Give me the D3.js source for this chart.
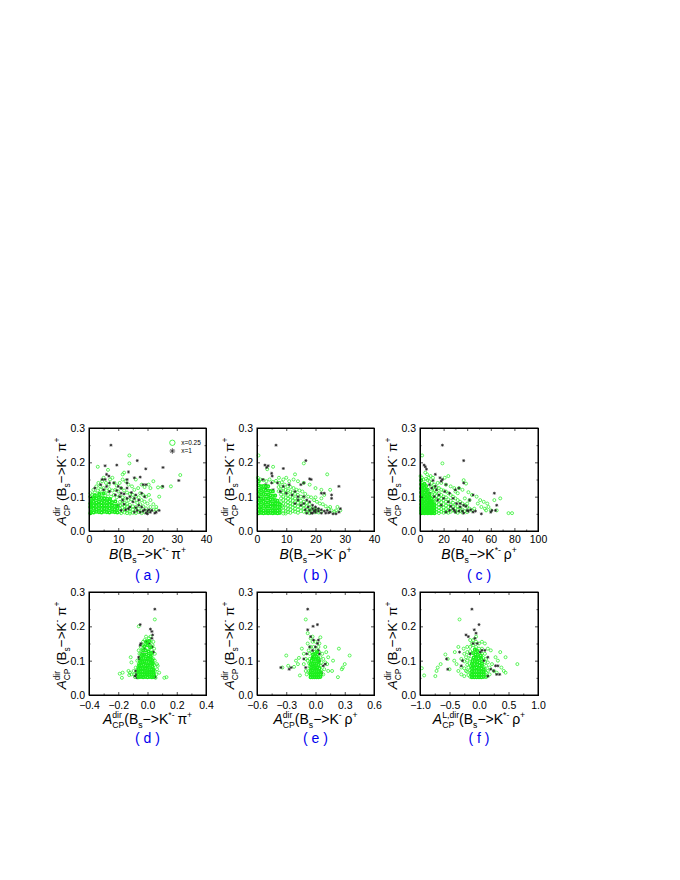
<!DOCTYPE html>
<html><head><meta charset="utf-8">
<script src="https://cdnjs.cloudflare.com/ajax/libs/d3/7.8.5/d3.min.js"></script>
<style>html,body{margin:0;background:#fff}svg{display:block}text{font-family:"Liberation Sans",Arial,sans-serif}</style>
</head><body><svg id="c" width="680" height="880"></svg>
<script>
const panelNames=["( a )","( b )","( c )","( d )","( e )","( f )"];
const xDomains=[[0,40],[0,40],[0,100],[-0.4,0.4],[-0.6,0.6],[-1,1]];
const xTickValues=[[0,10,20,30,40],[0,10,20,30,40],[0,20,40,60,80,100],[-0.4,-0.2,0,0.2,0.4],[-0.6,-0.3,0,0.3,0.6],[-1,-0.5,0,0.5,1]];
const xTickFormats=["d","d","d",".1f",".1f",".1f"];
const yTickValues=[0,0.1,0.2,0.3];
const legendLabels=["x=0.25","x=1"];

const greenA=[[13.8,.22],[13.8,.197],[3,.187],[6.5,.178],[31.2,.163],[28,.13],[25,.128],[23.6,.127],[22,.145],[20.4,.135],[21,.125],[24,.1],[23,.07],[23,.062],[18,.135],[19,.128],[16,.15],[12,.17],[11.5,.165],[8,.155],[7.2,.15],[5,.155],[4.5,.145],[3.2,.14],[2.5,.13],[1.5,.12],[3.8,.13],[5.8,.14],[6.8,.135],[8.7,.14],[9.5,.132],[10.5,.14],[11.5,.15],[12.5,.145],[13.5,.135],[14.7,.13],[15.5,.12],[16.8,.125],[17.5,.11],[18.5,.105],[19.5,.1],[20.5,.105],[21,.09],[22,.078],[0.5,.11],[1,.105],[2,.112],[3,.118],[4,.12],[5,.125],[6,.118],[7,.122],[8,.118],[9,.12],[10,.115],[11,.125],[12,.118],[13,.112],[14,.108],[15,.105],[16,.1],[17,.098],[18,.09],[19,.085],[20,.08],[21,.07],[22,.062],
[.4,.1],[1.4,.098],[2.5,.102],[3.5,.105],[4.5,.108],[5.5,.102],[6.5,.108],[7.5,.1],[8.5,.105],[9.5,.098],[10.5,.102],[11.5,.098],[12.5,.095],[13.5,.09],[14.5,.092],[15.5,.088],[16.5,.082],[17.5,.078],[18.5,.072],[19.5,.066],[20.5,.058],
[10.6,.085],[11.4,.088],[12.2,.082],[13,.08],[14,.076],[15,.072],[16,.07],[17,.065],[18,.06],[19,.055],
[10.6,.075],[11.4,.078],[12.2,.072],[13,.07],[14,.066],[15,.062],[16,.06],[17,.055],[18,.052],
[10.6,.065],[11.4,.068],[12.2,.063],[13,.061],[14,.056],[15,.053],[16,.052],
[10.6,.056],[11.4,.058],[12.2,.054],[13,.052],[14,.051],[11,.052]];
const coreA=[[.7,.055],[1.6,.054],[2.5,.056],[3.4,.055],[4.3,.054],[5.2,.056],[6.1,.055],[7,.054],[7.9,.056],[8.8,.055],[9.7,.054],
[.7,.064],[1.6,.065],[2.5,.063],[3.4,.066],[4.3,.064],[5.2,.065],[6.1,.064],[7,.066],[7.9,.064],[8.8,.063],[9.7,.065],
[.7,.074],[1.6,.075],[2.5,.073],[3.4,.076],[4.3,.074],[5.2,.075],[6.1,.074],[7,.076],[7.9,.074],[8.8,.073],[9.7,.075],
[.7,.084],[1.6,.085],[2.5,.083],[3.4,.086],[4.3,.084],[5.2,.085],[6.1,.084],[7,.086],[7.9,.084],[9,.086],
[.7,.094],[1.6,.095],[2.5,.095],[3.4,.097],[4.3,.096],[5.2,.095],[6.2,.094],[7.2,.093],[2,.104],[3.5,.108],[5,.11],[.5,.052],[.5,.07],[.5,.08]];
const blackA=[[7.5,.25],[9.5,.192],[5.5,.19],[16.5,.205],[13.5,.172],[19.4,.181],[25.3,.185],[30.7,.147],[25.2,.13],[6,.165],[6.8,.16],[5.5,.15],[13,.15],[13,.14],[15.5,.155],[17.5,.157],[18.5,.135],[19.5,.135],[2,.125],[4,.135],[5,.12],[7,.115],[8.5,.14],[10,.13],[11,.125],[13,.125],[14.5,.112],[16,.105],[18,.11],[19,.1],[9,.105],[11.5,.09],[13,.095],[15,.085],[17,.075],[18,.07],[19,.062],[20,.058],[21,.055],[20.5,.062],[23,.055],[22.5,.052],[24,.06],[16.5,.06],[14,.07],[12.5,.062],[10,.075],[15.5,.055],[17.5,.055],[19.5,.052],[20,.05],
[11,.11],[12,.108],[10.5,.1],[14,.1],[15.5,.095],[12,.078],[13.5,.065],[11,.06],[16,.068],[18.5,.058],[21.5,.06],[17,.09],[9.5,.118],[7,.14],[4.5,.15],[6,.13]];

const greenB=[[.5,.22],[5.5,.187],[3.5,.18],[24,.165],[16,.197],[13,.165],[7.5,.155],[9,.15],[11,.145],[10,.155],[12.5,.15],[14,.145],[16,.14],[18,.135],[20,.125],[25,.12],[22,.12],[23,.105],[20,.098],[22,.095],[25,.07],[27.5,.07],[28.5,.06],[27,.06],[.3,.155],[1.2,.15],[2.2,.148],[3.2,.145],[4.3,.15],[5.4,.143],[6.5,.146],[7.5,.14],[8.5,.142],[9.5,.135],[10.5,.13],[11.5,.128],[12.5,.125],[13.5,.12],[14.5,.118],[15.5,.115],[16.5,.108],[17.5,.1],[18.5,.098],[19.5,.09],[20.5,.085],[21.5,.08],[22.5,.078],[23.5,.072],[24.5,.065],[25.5,.06],[26.5,.056],
[7.4,.128],[8.2,.13],[9,.124],[9.8,.12],[10.6,.118],[11.4,.115],[12.2,.112],[13,.108],[14,.105],[15,.1],[16,.098],
[7.4,.116],[8.2,.118],[9,.112],[9.8,.11],[10.6,.105],[11.4,.1],[12.2,.098],[13,.095],[14,.092],[15,.088],[16,.085],[17,.082],[18,.078],
[8.2,.106],[9,.1],[9.8,.098],[10.6,.094],[11.4,.09],[12.2,.088],[13,.084],[14,.082],[15,.078],[16,.075],[17,.072],[18,.068],[19,.066],[20,.064],[21,.062],
[8.2,.095],[9,.09],[9.8,.088],[10.6,.084],[11.4,.08],[12.2,.078],[13,.074],[14,.072],[15,.068],[16,.065],[17,.062],[18,.06],[19,.056],[20,.055],[21,.054],[22,.056],
[8.2,.084],[9,.079],[9.8,.078],[10.6,.074],[11.4,.072],[12.2,.068],[13,.065],[14,.062],[15,.058],[16,.056],[17,.054],[18,.052],
[8.6,.073],[9,.069],[9.8,.067],[10.6,.064],[11.4,.062],[12.2,.058],[13,.056],[14,.053],[9,.059],[9.8,.057],[10.6,.055],[11.4,.053],[9,.051],[9.8,.051]];
const coreB=[[.6,.052],[1.4,.053],[2.2,.052],[3,.053],[3.8,.052],[4.6,.053],[5.4,.052],[6.2,.053],[7,.052],[7.8,.053],[.6,.062],[1.4,.062],[2.2,.06],[3,.061],[3.8,.06],[4.6,.06],[5.4,.06],[6.2,.059],[7,.06],[7.8,.061],
[.6,.073],[1.4,.072],[2.2,.073],[3,.072],[3.8,.072],[4.6,.071],[5.4,.07],[6.2,.07],[7,.07],[7.8,.07],
[.6,.084],[1.4,.084],[2.2,.085],[3,.083],[3.8,.083],[4.6,.081],[5.4,.08],[6.2,.08],[7,.079],[7.8,.078],
[.6,.096],[1.4,.095],[2.2,.096],[3,.094],[3.8,.095],[4.6,.092],[5.4,.091],[6.2,.09],[7,.088],
[.6,.108],[1.4,.107],[2.2,.108],[3,.106],[3.8,.106],[4.6,.104],[5.4,.102],[6.2,.103],
[.6,.12],[1.4,.119],[2.2,.12],[3,.118],[3.8,.118],[4.6,.116],[5.4,.115],
[.6,.133],[1.4,.13],[2.2,.131],[3,.13],[3.8,.13],[.6,.145]];
const blackB=[[6.5,.25],[16.7,.205],[2.7,.192],[3.8,.19],[3.3,.185],[9,.182],[5,.168],[5.2,.16],[18,.152],[18.5,.15],[2,.15],[5,.14],[3,.135],[16,.14],[11,.135],[15,.135],[28,.13],[22,.11],[23,.11],[25.5,.105],[25.5,.095],[3,.125],[5.5,.12],[8,.115],[10,.11],[12,.105],[14,.09],[16,.08],[17,.09],[18,.085],[19,.075],[20,.07],[21,.065],[22,.062],[23,.058],[24,.06],[25,.055],[26,.05],[27,.05],[28.5,.065],[28,.055],[20,.055],[18,.06],[17,.052],[19,.052],[22,.052],[15,.075],[13,.08],
[19,.065],[20,.062],[17.5,.07],[16.5,.062],[21,.058],[18.5,.052],[23.5,.052],[24.5,.053],[19.5,.058],[14,.1],[9,.13],[7,.14],[13,.115],[16,.1]];

const greenC=[[1.8,.22],[19,.197],[4.5,.17],[6,.165],[24,.16],[21,.155],[37,.148],[39,.138],[29,.125],[33,.125],[36,.12],[41,.113],[30,.115],[32,.11],[44,.105],[48,.1],[51,.09],[54,.085],[57,.08],[68,.095],[63,.09],[49,.08],[52,.07],[55,.065],[58,.07],[56,.06],[60,.06],[65,.06],[75,.052],[78,.052],[46,.065],[42,.09],[38,.095],[40,.08],[26,.13],[22,.135],[18,.14],[15,.14],[11,.155],[9,.16],[7.5,.155],[.5,.16],[1.5,.155],[3,.15],[5,.152],[6.5,.148],[8,.145],[10,.14],[12,.135],[14,.128],[16,.125],[18,.12],[20,.118],[22,.115],[24,.11],[26,.105],[28,.1],[30,.095],[32,.09],[34,.085],[36,.08],[38,.075],[40,.07],[42,.065],[44,.06],
[9.5,.128],[11,.125],[12.5,.12],[14,.115],[16,.11],[18,.105],[20,.1],[22,.098],[24,.092],[26,.088],[28,.082],[30,.078],[32,.072],[34,.068],[36,.062],[38,.058],[40,.055],
[9.5,.115],[11,.112],[12.5,.108],[14,.102],[16,.098],[18,.094],[20,.09],[22,.085],[24,.08],[26,.076],[28,.07],[30,.066],[32,.062],[34,.058],[36,.054],
[11,.1],[12.5,.096],[14,.092],[16,.088],[18,.084],[20,.078],[22,.074],[24,.07],[26,.066],[28,.06],[30,.056],[32,.053],
[12.5,.086],[14,.082],[16,.078],[18,.074],[20,.068],[22,.064],[24,.06],[26,.056],
[14,.072],[16,.068],[18,.064],[20,.06],[22,.056],[24,.053],
[14,.063],[16,.059],[18,.056],[20,.053],[14,.055],[16,.052]];
const coreC=[[1,.052],[2.4,.053],[3.8,.052],[5.2,.053],[6.6,.052],[8,.053],[9.4,.052],[10.8,.053],[12.2,.052],
[1,.06],[2.4,.059],[3.8,.061],[5.2,.06],[6.6,.059],[8,.061],[9.4,.06],[10.8,.06],[12.2,.06],
[1,.068],[2.4,.067],[3.8,.069],[5.2,.066],[6.6,.067],[8,.068],[9.4,.067],[10.8,.068],[12.2,.068],
[1,.078],[2.4,.076],[3.8,.079],[5.2,.075],[6.6,.077],[8,.076],[9.4,.077],[10.8,.076],[12.2,.076],
[1,.089],[2.4,.087],[3.8,.09],[5.2,.085],[6.6,.088],[8,.086],[9.4,.085],[10.8,.086],
[1,.1],[2.4,.098],[3.8,.101],[5.2,.096],[6.6,.098],[8,.097],[9.4,.095],
[1,.112],[2.4,.109],[3.8,.112],[5.2,.107],[6.6,.11],[8,.106],
[1,.124],[2.4,.121],[3.8,.125],[5.2,.119],[6.6,.12],
[1,.136],[2.4,.133],[3.8,.137],[5.2,.131],[1,.148]];
const blackC=[[19,.25],[37,.205],[3.5,.192],[4.5,.187],[5.5,.18],[13,.165],[17,.155],[11,.147],[19,.15],[18,.145],[22,.135],[37,.14],[30,.12],[33,.125],[63,.11],[45,.105],[42,.09],[65,.075],[10,.125],[14,.12],[8,.11],[21,.115],[25,.11],[28,.095],[34,.08],[37,.075],[39,.072],[31,.08],[34,.07],[40,.06],[43,.062],[47,.058],[52,.05],[60,.055],[61,.06],[64,.06],[30,.055],[25,.06],[22,.055],[18,.075],[15,.09],[12,.1],[9,.085],[45,.055],[36,.058],[28,.065],
[29,.06],[33,.058],[26,.072],[24,.085],[20,.095],[16,.105],[13,.13],[8,.135],[41,.058],[37,.052]];

const greenD=[[.05,.22],[-.06,.2],[.02,.17],[.04,.155],[-.115,.11],[-.11,.095],[-.06,.13],[-.19,.062],[-.17,.065],[-.175,.05],[-.13,.07],[-.12,.065],[-.11,.06],[-.125,.058],[-.095,.07],[.13,.052],[.115,.05],[.08,.065],[.07,.085],[.065,.09],[.05,.1],[.05,.12],[.045,.135],[.035,.145],[-.03,.155],[-.045,.14],[-.055,.12],[-.07,.1],[-.08,.08],[-.09,.06],[-.085,.052],[.06,.06],[.055,.05],[.065,.075],
[-.01,.17],[.01,.165],[-.02,.16],[0,.158],[.02,.155],[-.03,.145],[-.01,.148],[.01,.147],[.03,.14],[-.04,.13],[.035,.125],[-.045,.12],[.03,.115],[-.05,.11],[.04,.105],[-.055,.1],[.035,.097],[-.06,.09],[.045,.087],[-.065,.08],[.04,.078],[-.07,.07],[.05,.07],[-.075,.062],[.045,.06],[-.07,.053],[.05,.053]];
const coreD=[[-.06,.052],[-.045,.053],[-.03,.052],[-.015,.053],[0,.052],[.015,.053],[.03,.052],[.04,.053],[-.06,.06],[-.048,.06],[-.033,.06],[-.018,.06],[-.003,.06],[.012,.06],[.027,.06],[.04,.06],
[-.062,.068],[-.05,.068],[-.033,.068],[-.018,.067],[-.003,.066],[.012,.066],[.027,.066],[.04,.066],
[-.06,.076],[-.047,.077],[-.033,.078],[-.015,.077],[-.002,.076],[.012,.075],[.027,.074],[.04,.073],
[-.057,.086],[-.042,.087],[-.028,.088],[-.012,.087],[.002,.086],[.018,.085],[.033,.084],
[-.05,.096],[-.036,.097],[-.022,.098],[-.007,.097],[.008,.096],[.025,.094],[.036,.092],
[-.043,.107],[-.028,.108],[-.012,.107],[.003,.106],[.018,.104],[.032,.102],
[-.038,.117],[-.023,.118],[-.008,.118],[.008,.115],[.022,.113],[-.03,.13],[-.012,.13],[.008,.127],[.025,.122],[-.022,.142],[0,.145],[.018,.138],[-.008,.155],[.012,.157]];
const blackD=[[.05,.25],[-.05,.205],[.02,.192],[.03,.185],[.035,.175],[.03,.165],[-.01,.155],[.01,.15],[-.05,.145],[-.045,.15],[-.06,.11],[-.055,.105],[-.03,.12],[-.08,.07],[-.075,.06],[-.085,.055],[.045,.055],[.05,.052],[.03,.14],[-.02,.135],[.04,.125],[-.07,.05],[-.06,.065]];

const greenE=[[-.1,.22],[-.08,.18],[.05,.168],[.1,.14],[.24,.135],[.35,.115],[-.3,.115],[.18,.1],[.3,.09],[.27,.075],[.28,.08],[.17,.07],[.23,.052],[-.16,.057],[-.18,.09],[-.2,.1],[-.17,.108],[-.22,.082],[-.28,.085],[-.34,.08],[-.12,.12],[-.14,.135],[-.1,.105],[-.12,.09],[-.1,.07],[.11,.125],[.13,.11],[.12,.09],[.1,.095],[.09,.075],[.13,.07],[.08,.06],[-.09,.06],[-.08,.15],[-.05,.165],[-.03,.17],[.04,.15],[.07,.12],[.08,.105],[-.08,.1],[-.07,.13],
[-.03,.155],[0,.155],[.03,.14],[-.05,.14],[-.02,.14],[.01,.13],[.04,.125],[-.06,.12],[-.035,.125],[-.01,.125],[.02,.118],[.05,.11],[-.06,.105],[-.065,.092],[.06,.095],[.055,.085],[-.07,.07],[.06,.072],[-.06,.082],[-.06,.064],[.06,.06]];
const coreE=[[-.05,.052],[-.03,.052],[-.01,.052],[.01,.052],[.03,.052],[.05,.053],[-.05,.06],[-.03,.06],[-.01,.06],[.01,.06],[.03,.06],[.05,.06],
[-.05,.07],[-.03,.071],[-.01,.07],[.01,.07],[.03,.069],[.05,.067],[-.045,.08],[-.025,.082],[-.005,.081],[.015,.08],[.04,.078],
[-.05,.09],[-.03,.091],[-.01,.092],[.01,.091],[.03,.088],[-.04,.1],[-.02,.104],[0,.103],[.02,.102],[.035,.098],[-.03,.108],[-.01,.113],[.01,.112],[.03,.106],[-.025,.118],[0,.12],[.015,.125]];
const blackE=[[-.08,.25],[.02,.205],[-.025,.2],[-.08,.19],[-.05,.17],[-.02,.16],[.03,.16],[0,.14],[.03,.13],[.04,.12],[-.09,.12],[-.12,.105],[-.06,.14],[-.355,.08],[-.27,.075],[-.25,.08],[.1,.09],[.08,.085],[.06,.065],[.02,.15],[-.03,.11],[.04,.1],[-.1,.08],[-.03,.13]];

const greenF=[[-.33,.22],[-.57,.118],[-.53,.105],[-.41,.125],[-.35,.14],[-.26,.135],[-.97,.078],[-.93,.057],[-.72,.07],[-.74,.055],[-.7,.08],[-.65,.09],[-.5,.075],[-.42,.1],[-.38,.09],[-.3,.08],[-.35,.07],[-.3,.06],[-.25,.055],[-.22,.07],[.65,.09],[.45,.11],[.36,.125],[.42,.07],[.45,.065],[.38,.08],[.32,.1],[.28,.11],[.2,.13],[.15,.135],[.1,.15],[.05,.155],[-.15,.16],[-.2,.14],[-.25,.12],[-.3,.105],[.25,.07],[.3,.065],[.22,.09],[-.05,.17],[-.12,.15],
[-.1,.16],[-.05,.155],[0,.15],[-.15,.14],[-.1,.145],[-.05,.14],[0,.135],[.05,.135],[-.2,.125],[-.15,.128],[.05,.12],[.1,.12],[-.22,.11],[-.17,.115],[.07,.108],[.12,.105],[-.25,.098],[-.2,.1],[-.15,.105],[.1,.096],[.15,.095],[-.2,.088],[-.16,.092],[.12,.085],[.18,.08],[-.25,.078],[-.18,.08],[-.14,.084],[.1,.076],[.15,.07],[-.2,.068],[-.15,.072],[.12,.066],[.18,.06],[-.18,.058],[-.14,.063],[.14,.055],[-.15,.053],[.12,.052]];
const coreF=[[-.12,.052],[-.08,.052],[-.04,.052],[0,.052],[.04,.052],[.08,.053],[-.12,.06],[-.08,.06],[-.04,.06],[0,.06],[.04,.06],[.08,.06],
[-.12,.069],[-.08,.07],[-.04,.07],[0,.069],[.04,.067],[.08,.067],[-.12,.079],[-.08,.079],[-.04,.08],[0,.079],[.04,.077],[.08,.075],[-.12,.09],[-.08,.09],[-.03,.088],[.01,.086],[.05,.085],[-.11,.099],[-.07,.099],[-.03,.097],[.01,.095],[.05,.092],[-.09,.109],[-.05,.108],[-.01,.107],[.04,.105],[-.1,.122],[-.06,.118],[-.02,.117],[.03,.115],[-.07,.132],[-.03,.128]];
const blackF=[[-.12,.25],[0,.205],[-.08,.19],[-.05,.18],[-.18,.17],[-.22,.175],[-.07,.165],[-.1,.15],[-.03,.15],[-.33,.125],[-.55,.105],[-.53,.075],[-.28,.1],[-.3,.085],[.05,.13],[.1,.13],[.02,.125],[.15,.11],[.28,.085],[.32,.085],[.3,.06],[.35,.06],[.25,.07],[.2,.075],[.15,.055],[-.15,.12],[-.05,.13],[.08,.1]];

const greens=[greenA,greenB,greenC,greenD,greenE,greenF];
const cores=[coreA,coreB,coreC,coreD,coreE,coreF];
const blacks=[blackA,blackB,blackC,blackD,blackE,blackF];
const xLabels=[
 [["B","i"],["(B"],["s","b"],["−>K"],["*-","p"],["\u2009π"],["+","p"]],
 [["B","i"],["(B"],["s","b"],["−>K"],["-","p"],["\u2009ρ"],["+","p"]],
 [["B","i"],["(B"],["s","b"],["−>K"],["*-","p"],["\u2009ρ"],["+","p"]],
 [["A","i"],["dir","p",15],["CP","b"],["(B"],["s","b"],["−>K"],["*-","p"],["\u2009π"],["+","p"]],
 [["A","i"],["dir","p",15],["CP","b"],["(B"],["s","b"],["−>K"],["-","p"],["\u2009ρ"],["+","p"]],
 [["A","i"],["L,dir","p",23],["CP","b"],["(B"],["s","b"],["−>K"],["*-","p"],["\u2009ρ"],["+","p"]]
];
const yLabel=[["A","i"],["dir","p",15],["CP","b"],[" (B"],["s","b"],["−>K"],["-","p"],[" π"],["+","p"]];

const frames=[[89,428,117,103],[257,428,117,103],[420,428,118,103],[89,592,117,103],[257,592,117,103],[420,592,118,103]];
const svg=d3.select("#c");

function richText(g,segs,size){
  const t=g.append("text").attr("font-size",size).attr("fill","#000").attr("text-anchor","middle");
  let base=0;
  segs.forEach(s=>{
    const kind=s[1];
    const off=kind==="p"?-size*0.42:kind==="b"?size*0.28:0;
    const ts=t.append("tspan").text(s[0]).attr("xml:space","preserve");
    ts.attr("dy",off-base); base=off;
    if(kind==="i") ts.attr("font-style","italic");
    if(kind==="p"||kind==="b") ts.attr("font-size",size*0.62);
    if(s[2]) ts.attr("data-w",s[2]);
  });
  const spans=t.selectAll("tspan").nodes();
  spans.forEach((n,i)=>{
    if(n.getAttribute("data-w")){
      const w=n.getComputedTextLength();
      d3.select(spans[i+1]).attr("dx",-w);
      const sw=spans[i+1].getComputedTextLength();
      if(w>sw) d3.select(spans[i+2]).attr("dx",w-sw);
    }
  });
  return t;
}

frames.forEach((f,i)=>{
  const [fx,fy,fw,fh]=f;
  const x=d3.scaleLinear().domain(xDomains[i]).range([0,fw]);
  const y=d3.scaleLinear().domain([0,0.3]).range([fh,0]);
  const g=svg.append("g").attr("transform",`translate(${fx},${fy})`);

  g.append("g").selectAll("circle").data(greens[i]).join("circle")
    .attr("cx",d=>x(d[0])).attr("cy",d=>y(d[1])).attr("r",1.5)
    .attr("fill","none").attr("stroke","#2af02a").attr("stroke-width",.75);
  g.append("g").selectAll("path").data(blacks[i]).join("path")
    .attr("transform",d=>`translate(${x(d[0])},${y(d[1])})`)
    .attr("d","M-1.5,0H1.5M0,-1.5V1.5M-1.1,-1.1L1.1,1.1M-1.1,1.1L1.1,-1.1")
    .attr("stroke","#222").attr("stroke-width",.7).attr("fill","none");
  g.append("g").selectAll("circle").data(cores[i]).join("circle")
    .attr("cx",d=>x(d[0])).attr("cy",d=>y(d[1])).attr("r",1.3)
    .attr("fill","none").attr("stroke","#1cf01c").attr("stroke-width",1.6);

  const xMajor=xTickValues[i];
  const xMinor=d3.pairs(xMajor).map(p=>(p[0]+p[1])/2);
  const yMinor=d3.pairs(yTickValues).map(p=>(p[0]+p[1])/2);
  g.append("g").attr("transform",`translate(0,${fh})`)
    .call(d3.axisBottom(x).tickValues(xMajor).tickFormat(d3.format(xTickFormats[i])).tickSize(-3).tickPadding(i<3?5:6.5));
  g.append("g")
    .call(d3.axisLeft(y).tickValues(yTickValues).tickFormat(d3.format(".1f")).tickSize(-3).tickPadding(4));
  g.append("g").call(d3.axisTop(x).tickValues(xMajor).tickFormat("").tickSize(-3));
  g.append("g").attr("transform",`translate(${fw},0)`).call(d3.axisRight(y).tickValues(yTickValues).tickFormat("").tickSize(-3));
  g.append("g").attr("transform",`translate(0,${fh})`).call(d3.axisBottom(x).tickValues(xMinor).tickFormat("").tickSize(-1.5));
  g.append("g").call(d3.axisTop(x).tickValues(xMinor).tickFormat("").tickSize(-1.5));
  g.append("g").call(d3.axisLeft(y).tickValues(yMinor).tickFormat("").tickSize(-1.5));
  g.append("g").attr("transform",`translate(${fw},0)`).call(d3.axisRight(y).tickValues(yMinor).tickFormat("").tickSize(-1.5));
  g.selectAll(".domain").attr("stroke","#000").attr("stroke-width",1);
  g.selectAll(".tick line").attr("stroke","#000").attr("stroke-width",.7);
  g.selectAll(".tick text").attr("font-size",10.5).attr("font-family",'"Liberation Sans",Arial,sans-serif').attr("fill","#000");
  g.append("rect").attr("width",fw).attr("height",fh).attr("fill","none").attr("stroke","#000").attr("stroke-width",1);

  const cx=fx+fw/2;
  richText(svg.append("g").attr("transform",`translate(${cx},${fy+fh+(i<3?28:29)})`),xLabels[i],14);
  svg.append("text").attr("x",cx).attr("y",fy+fh+(i<3?49:48)).attr("text-anchor","middle")
    .attr("font-size",14).attr("fill","#0000ee").text(panelNames[i]);
  richText(svg.append("g").attr("transform",`translate(${fx-23},${fy+fh/2+2}) rotate(-90)`),yLabel,13.5);
});

// legend in panel (a)
const lx=d3.scaleLinear().domain(xDomains[0]).range([89,206]);
const ly=d3.scaleLinear().domain([0,0.3]).range([531,428]);
const lg=svg.append("g");
lg.append("circle").attr("cx",lx(28.5)).attr("cy",ly(.257)).attr("r",2.7).attr("fill","none").attr("stroke","#1cf01c").attr("stroke-width",.8);
lg.append("path").attr("transform",`translate(${lx(28.5)},${ly(.233)})`)
  .attr("d","M-2.8,0H2.8M0,-2.8V2.8M-2,-2L2,2M-2,2L2,-2").attr("stroke","#222").attr("stroke-width",.7);
lg.selectAll("text").data(legendLabels).join("text")
  .attr("x",lx(31.5)).attr("y",(d,i)=>ly(i?.233:.257)+2.3).attr("font-size",6.5).attr("fill","#000").text(d=>d);
</script></body></html>
